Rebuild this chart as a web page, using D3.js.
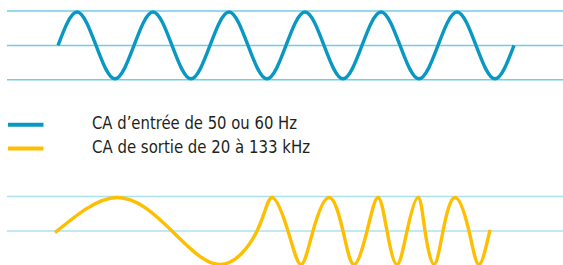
<!DOCTYPE html>
<html>
<head>
<meta charset="utf-8">
<script src="https://cdn.jsdelivr.net/npm/d3@7"></script>
<style>
	body { margin: 0; background: #ffffff; }
	svg { display: block; }
</style>
</head>
<body>
<div id="chart"></div>
<script>

// Onde d'entrée : temps (en périodes) et niveau
var entreeTemps = [0, 0.25, 0.5, 0.75, 1, 1.25, 1.5, 1.75, 2, 2.25, 2.5, 2.75, 3,
	3.25, 3.5, 3.75, 4, 4.25, 4.5, 4.75, 5, 5.25, 5.5, 5.75, 6];
var entreeNiveau = [0, 1, 0, -1, 0, 1, 0, -1, 0, 1, 0, -1, 0,
	1, 0, -1, 0, 1, 0, -1, 0, 1, 0, -1, 0];

// Onde de sortie (fréquence variable) : temps et niveau
var sortieTemps = [0, 62, 117, 165, 202, 217, 233, 246, 258, 274, 288, 299, 312,
	323, 332, 342, 352, 363, 370, 379, 388, 400, 414, 424, 435];
var sortieNiveau = [-0.05, 1, 0, -1, 0, 1, 0, -1, 0, 1, 0, -1, 0,
	1, 0, -1, 0, 1, 0, -1, 0, 1, 0, -1, 0.03];

// Lignes de repère (niveaux)
var grilleEntree = [1, 0, -1];
var grilleSortie = [1, 0];

// Légende
var legendeTextes = ["CA d\u2019entrée de 50 ou 60 Hz", "CA de sortie de 20 à 133 kHz"];
var legendeLongueurs = [205, 218];
var legendeCouleurs = ["#0898c3", "#fdbf00"];

var width = 563;
var height = 265;

var svg = d3.select("#chart").append("svg")
	.attr("width", width)
	.attr("height", height);

/**
 * Dessine une onde avec ses lignes de repère
 */
function view_onde(temps, niveau, grille, xDomain, xRange, yRange, couleurGrille, couleur){

	var x = d3.scaleLinear().domain(xDomain).range(xRange);
	var y = d3.scaleLinear().domain([-1, 1]).range(yRange);

	var g = svg.append("g");

	// lignes de repère
	g.selectAll(".grille")
	.data(grille)
	.enter().append("line")
	.attr("x1", 7)
	.attr("x2", width)
	.attr("y1", function(d) { return y(d * 1.03); })
	.attr("y2", function(d) { return y(d * 1.03); })
	.style("stroke", couleurGrille)
	.style("stroke-width", 1.5);

	var pts = temps.map(function(t, i) { return [t, niveau[i]]; });

	var line = d3.line()
	.x(function(d) { return x(d[0]); })
	.y(function(d) { return y(d[1]); })
	.curve(d3.curveNatural);

	g.append("path")
	.datum(pts)
	.attr("d", line)
	.style("fill", "none")
	.style("stroke", couleur)
	.style("stroke-width", 3.4)
	.style("stroke-linecap", "butt");
}

view_onde(entreeTemps, entreeNiveau, grilleEntree, [0, 6], [58, 514], [78.8, 12], "#72cde4", legendeCouleurs[0]);
view_onde(sortieTemps, sortieNiveau, grilleSortie, [0, 435], [55, 490], [264.5, 197.5], "#ade0ef", legendeCouleurs[1]);

// légende
var leg = svg.selectAll(".leg")
	.data(legendeTextes)
	.enter().append("g")
	.attr("transform", function(d, i) { return "translate(0," + (124.7 + i * 23.8) + ")"; });

leg.append("line")
	.attr("x1", 8)
	.attr("x2", 43.5)
	.attr("y1", 0)
	.attr("y2", 0)
	.style("stroke", function(d, i) { return legendeCouleurs[i]; })
	.style("stroke-width", 4);

leg.append("text")
	.attr("x", 92)
	.attr("y", 4.7)
	.attr("textLength", function(d, i) { return legendeLongueurs[i]; })
	.attr("lengthAdjust", "spacingAndGlyphs")
	.text(function(d) { return d; })
	.style("font-family", "'DejaVu Sans Condensed', 'Liberation Sans', sans-serif")
	.style("font-size", "17.5px")
	.style("fill", "#231f20");

</script>
</body>
</html>
